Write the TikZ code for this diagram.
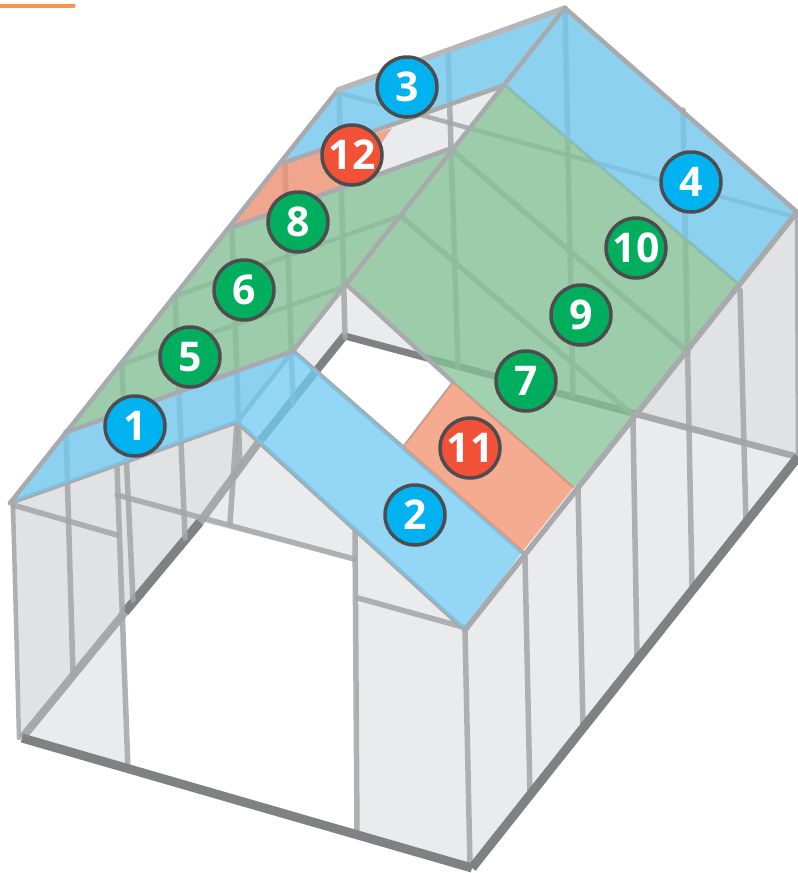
\documentclass[tikz,border=0pt]{standalone}
\usepackage{fontspec}
\setsansfont{Open Sans}
\usepackage{xcolor}
\definecolor{gWallLight}{HTML}{EAEBED}
\definecolor{gWallDark}{HTML}{E1E2E4}
\definecolor{gStrut}{HTML}{A4A5A8}
\definecolor{gBar}{HTML}{7F8183}
\definecolor{gBarSoft}{HTML}{A7A8AB}
\definecolor{gEdge}{HTML}{A9AAAD}
\definecolor{gBlue}{HTML}{72CAF3}
\definecolor{gGreen}{HTML}{86C397}
\definecolor{gOrange}{HTML}{F2926F}
\definecolor{gMarkBlue}{HTML}{00B3F0}
\definecolor{gMarkGreen}{HTML}{00AE5D}
\definecolor{gMarkRed}{HTML}{F15136}
\definecolor{gMarkRim}{HTML}{4D4D4F}
\definecolor{gDash}{HTML}{F7964A}
\tikzset{
  strut/.style={draw=gStrut, draw opacity=0.85, line width=5.5pt, line cap=round},
  basebar/.style={draw=gBar, line width=9pt, line cap=butt},
  softbar/.style={draw=gBarSoft, line width=8pt},
  edgebar/.style={draw=gEdge, line width=4.5pt, line cap=round},
  pane/.style={fill opacity=0.77, draw=none},
  gmark/.style={circle, draw=gMarkRim, line width=3.5pt, minimum size=60pt, inner sep=0pt, text=white, font=\sffamily\bfseries\fontsize{41}{41}\selectfont},
}
\begin{document}
\begin{tikzpicture}[x=1pt,y=-1pt]
\useasboundingbox (0,0) rectangle (798,873);
\fill[gWallDark] (10,503) -- (237,422) -- (259,442) -- (22,738) -- cycle;
\fill[gWallDark] (636,414) -- (740,285) -- (797,212) -- (798,457) -- cycle;
\fill[gWallLight] (465,630) -- (636,414) -- (798,457) -- (472,868) -- cycle;
\fill[gWallLight] (259,442) -- (465,630) -- (472,868) -- (357,835) -- (355,560) -- (200,522) -- cycle;
\fill[gWallLight] (22,738) -- (125,612) -- (127,768) -- cycle;
\fill[gWallLight] (10,503) -- (338,90) -- (565,8) -- (797,212) -- (636,414) -- (435,361) -- (347,285) -- (293,351) -- (237,422) -- cycle;
\fill[gWallLight] (347,285) -- (453,382) -- (435,361) -- (345,335) -- (316,373) -- (293,351) -- cycle;
\draw[softbar] (22,738) -- (125,612);
\draw[softbar] (200,522) -- (259,442);
\draw[basebar] (125,612) -- (200,522);
\draw[basebar, line width=8pt] (259,442) -- (345,335);
\draw[basebar, line width=7pt] (345,336) -- (636,414);
\draw[softbar, line width=6.5pt] (636,414) -- (798,457);
\draw[strut, line width=4.5pt] (13,505) -- (19,738);
\draw[strut] (66,432) -- (73,675);
\draw[strut] (13,505) -- (117,535);
\draw[strut] (117,468) -- (128,770);
\draw[strut] (122,367) -- (133,600);
\draw[strut] (175,297) -- (185,538);
\draw[strut] (232,230) -- (240,468);
\draw[strut] (237,422) -- (230,523);
\draw[strut] (285,163) -- (293,403);
\draw[strut] (339,90) -- (345,337);
\draw[strut] (117,495) -- (354,559);
\draw[strut] (355,530) -- (357,833);
\draw[strut] (358,598) -- (463,627);
\draw[strut] (465,630) -- (470,865);
\draw[strut] (525,557) -- (530,797);
\draw[strut] (578,488) -- (583,727);
\draw[strut] (633,420) -- (637,657);
\draw[strut] (683,110) -- (692,587);
\draw[strut] (740,290) -- (746,523);
\draw[strut] (565,10) -- (573,395);
\draw[strut] (448,53) -- (458,367);
\draw[strut, line width=4.5pt] (340,93) -- (795,217);
\draw[strut, line width=4.5pt] (120,365) -- (343,287);
\draw[strut, line width=4.5pt] (173,297) -- (397,217);
\draw[strut] (452,150) -- (688,352);
\draw[strut] (402,217) -- (633,415);
\draw[strut, line width=4.5pt] (797,212) -- (798,457);
\draw[edgebar] (237,422) -- (293,351);
\draw[edgebar] (10,503) -- (237,422);
\draw[edgebar] (237,422) -- (465,630);
\draw[edgebar] (293,351) -- (522,552);
\draw[edgebar, line width=3pt] (505,85) -- (740,285);
\draw[edgebar, line width=2.5pt] (453,382) -- (573,487);
\draw[edgebar, line width=2pt] (403,447) -- (453,382);
\fill[gBlue, pane] (10,503) -- (67,432) -- (293,351) -- (237,422) -- cycle;
\fill[gGreen, pane] (67,432) -- (230,228) -- (452,148) -- (293,351) -- cycle;
\fill[gOrange, pane] (230,228) -- (283,163) -- (392,128) -- (352,186) -- cycle;
\fill[gBlue, pane] (283,163) -- (338,90) -- (565,8) -- (505,85) -- cycle;
\fill[gBlue, pane] (565,8) -- (797,212) -- (740,285) -- (505,85) -- cycle;
\fill[gGreen, pane] (505,85) -- (740,285) -- (576,488) -- (453,382) -- (347,285) -- cycle;
\fill[gOrange, pane] (453,382) -- (574,487) -- (522,552) -- (403,447) -- cycle;
\fill[gBlue, pane] (293,351) -- (522,552) -- (465,630) -- (237,422) -- cycle;
\draw[edgebar] (347,285) -- (453,382);
\draw[edgebar] (10,503) -- (338,90);
\draw[edgebar, line width=5.5pt, draw=gEdge!85] (338,90) -- (565,8);
\draw[edgebar] (565,8) -- (797,212);
\draw[edgebar, line width=5.5pt] (465,630) -- (797,212);
\draw[edgebar] (293,351) -- (565,8);
\draw[edgebar] (67,432) -- (293,351);
\draw[edgebar] (230,228) -- (452,148);
\draw[edgebar] (283,163) -- (505,85);
\draw[basebar] (22,738) -- (472,868);
\draw[basebar] (472,868) -- (798,457);
\draw[line width=3.5pt, draw=gDash, line cap=round] (0,6) -- (74,6);
\node[gmark, fill=gMarkBlue] (n1) at (135,426) {1};
\node[gmark, fill=gMarkBlue] (n2) at (415,515) {2};
\node[gmark, fill=gMarkBlue] (n3) at (407,87) {3};
\node[gmark, fill=gMarkBlue] (n4) at (691,182) {4};
\node[gmark, fill=gMarkGreen] (n5) at (190,357) {5};
\node[gmark, fill=gMarkGreen] (n6) at (244,290) {6};
\node[gmark, fill=gMarkGreen] (n7) at (526,381) {7};
\node[gmark, fill=gMarkGreen] (n8) at (298,222) {8};
\node[gmark, fill=gMarkGreen] (n9) at (581,315) {9};
\node[gmark, fill=gMarkGreen] (n10) at (636,248) {10};
\node[gmark, fill=gMarkRed] (n11) at (470,448) {11};
\node[gmark, fill=gMarkRed] (n12) at (352,155) {12};
\end{tikzpicture}
\end{document}
